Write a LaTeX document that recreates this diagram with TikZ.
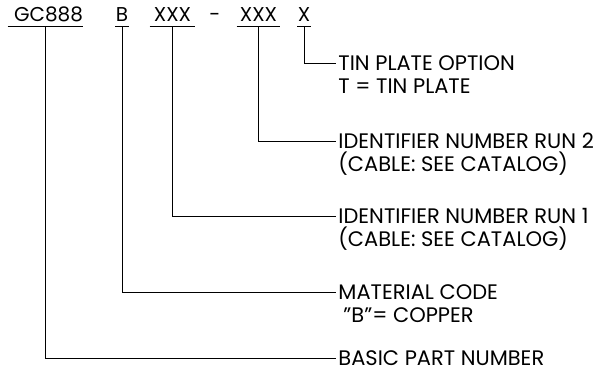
\documentclass[tikz,border=0pt]{standalone}
\usepackage{fontspec}
\setmainfont{Poppins}
\usetikzlibrary{positioning}

\begin{document}
\begin{tikzpicture}[x=1pt, y=-1pt, line width=0.9pt,
  every node/.style={font=\fontsize{21}{24}\selectfont},
  field/.style={anchor=south, font=\fontsize{20}{24}\selectfont, text height=14pt, text depth=0pt, inner xsep=0pt, inner ysep=4pt},
  callout/.style={anchor=west, text height=14pt, text depth=0pt, inner xsep=2pt, inner ysep=2pt},
  subline/.style={text height=14pt, text depth=0pt, inner xsep=2pt, inner ysep=2pt}]
  \useasboundingbox (0,0) rectangle (598,381);
  % part number fields
  \node[field, minimum width=75pt] (gc) at (45.5,26) {\hspace{6pt}GC888};
  \node[field, minimum width=10pt] (mat) at (122,26) {B};
  \node[field, minimum width=45pt] (run1code) at (172.5,26) {XXX};
  \node[field] (dash) at (215,26) {-};
  \node[field, minimum width=43pt] (run2code) at (258.5,26) {XXX};
  \node[field, minimum width=12pt] (tincode) at (304,26) {X};
  \foreach \f in {gc, mat, run1code, run2code, tincode}
    \draw (\f.south west) -- (\f.south east);
  % descriptions
  \node[callout] (tin) at (336,63) {TIN PLATE OPTION};
  \node[subline, below right=5pt and 0pt of tin.south west] (tin2) {T = TIN PLATE};
  \node[callout] (run2) at (336,141) {IDENTIFIER NUMBER RUN 2};
  \node[subline, below right=5pt and 0pt of run2.south west] (run2b) {(CABLE: SEE CATALOG)};
  \node[callout] (run1) at (336,216) {IDENTIFIER NUMBER RUN 1};
  \node[subline, below right=5pt and 0pt of run1.south west] (run1b) {(CABLE: SEE CATALOG)};
  \node[callout] (matl) at (336,292) {MATERIAL CODE};
  \node[subline, below right=5pt and 5pt of matl.south west] (matl2) {"B"= COPPER};
  \node[callout] (basic) at (336,358) {BASIC PART NUMBER};
  % leaders
  \draw (tincode.south) |- (tin.west);
  \draw (run2code.south) |- (run2.west);
  \draw (run1code.south) |- (run1.west);
  \draw (mat.south) |- (matl.west);
  \draw (gc.south) |- (basic.west);
\end{tikzpicture}
\end{document}
